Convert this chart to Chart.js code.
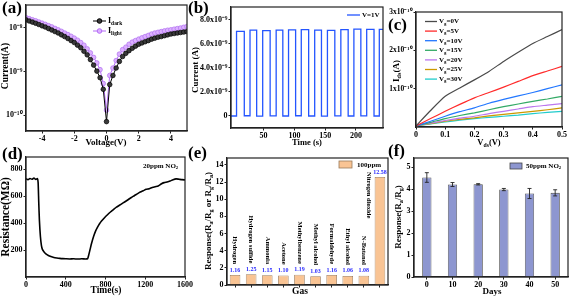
<!DOCTYPE html>
<html>
<head>
<meta charset="utf-8">
<script src="https://cdn.jsdelivr.net/npm/chart.js@4.4.1/dist/chart.umd.min.js"></script>
<style>
  html, body { margin: 0; padding: 0; background: #fff; }
  #wrap { position: relative; width: 570px; height: 297px; overflow: hidden; }
  #wrap canvas { position: absolute; left: 0; top: 0; }
</style>
</head>
<body>
<div id="wrap">
  <canvas id="ca" width="570" height="297"></canvas>
  <canvas id="cb" width="570" height="297"></canvas>
  <canvas id="cc" width="570" height="297"></canvas>
  <canvas id="cd" width="570" height="297"></canvas>
  <canvas id="ce" width="570" height="297"></canvas>
  <canvas id="cf" width="570" height="297"></canvas>
</div>
<script>
// (a) I-V curves
const voltage = [-5, -4.8, -4.6, -4.4, -4.2, -4, -3.8, -3.6, -3.4, -3.2, -3, -2.8, -2.6, -2.4, -2.2, -2, -1.8, -1.6, -1.4, -1.2, -1, -0.8, -0.6, -0.4, -0.2,
  0, 0.2, 0.4, 0.6, 0.8, 1, 1.2, 1.4, 1.6, 1.8, 2, 2.2, 2.4, 2.6, 2.8, 3, 3.2, 3.4, 3.6, 3.8, 4, 4.2, 4.4, 4.6, 4.8, 5];
const iDark = [1.52e-8, 1.43e-8, 1.35e-8, 1.27e-8, 1.19e-8, 1.11e-8, 1.04e-8, 9.6e-9, 8.9e-9, 8.2e-9, 7.6e-9, 6.9e-9, 6.3e-9, 5.7e-9, 5.1e-9, 4.6e-9, 4.0e-9, 3.5e-9, 2.9e-9, 2.4e-9, 1.87e-9, 1.4e-9, 1.02e-9, 7.2e-10, 3.9e-10,
  7.1e-11, 5.0e-10, 8.1e-10, 1.2e-9, 1.7e-9, 2.2e-9, 2.6e-9, 3.0e-9, 3.4e-9, 3.8e-9, 4.2e-9, 4.5e-9, 4.8e-9, 5.1e-9, 5.5e-9, 5.8e-9, 6.1e-9, 6.3e-9, 6.6e-9, 6.9e-9, 7.2e-9, 7.4e-9, 7.6e-9, 7.8e-9, 8.0e-9, 8.2e-9];
const iLight = [1.71e-8, 1.62e-8, 1.53e-8, 1.45e-8, 1.36e-8, 1.28e-8, 1.2e-8, 1.12e-8, 1.05e-8, 9.7e-9, 9.0e-9, 8.3e-9, 7.6e-9, 7.0e-9, 6.4e-9, 5.8e-9, 5.2e-9, 4.6e-9, 4.0e-9, 3.3e-9, 2.66e-9, 2.1e-9, 1.57e-9, 1.1e-9, 5.3e-10,
  1.3e-10, 8.1e-10, 1.2e-9, 1.78e-9, 2.5e-9, 3.16e-9, 3.6e-9, 4.2e-9, 4.7e-9, 5.1e-9, 5.5e-9, 5.9e-9, 6.3e-9, 6.7e-9, 7.2e-9, 7.6e-9, 7.9e-9, 8.2e-9, 8.5e-9, 8.8e-9, 9.0e-9, 9.3e-9, 9.6e-9, 9.9e-9, 1.03e-8, 1.07e-8];
const voltTicks = [-4, -2, 0, 2, 4];
const currentTicks = [1e-10, 1e-9, 1e-8];
const currentLabels = ['10⁻¹⁰', '10⁻⁹', '10⁻⁸'];

// (b) switching at V=1V (current in units of 1e-9 A)
const pulseRise = [6.0, 27.9, 48.5, 70.4, 90.5, 111.2, 133.0, 153.7, 175.5, 196.7, 217.5, 238.0];
const pulseFall = [18.6, 38.7, 60.6, 81.2, 102.0, 123.2, 144.0, 165.7, 187.4, 208.0, 229.4, 250.0];
const pulseTop = [7.05, 7.15, 7.12, 7.16, 7.18, 7.2, 7.15, 7.14, 7.2, 7.23, 7.22, 7.22];
const pulseBase = [0.0, 0.02, -0.01, 0.01, 0.0, 0.02, 0.0, -0.01, 0.01, 0.0, 0.01, 0.0, 0.0];
const timeTicks = [50, 100, 150, 200];
const switchTicks = [0, 2, 4, 6, 8];
const switchLabels = ['0', '2.0x10⁻⁹', '4.0x10⁻⁹', '6.0x10⁻⁹', '8.0x10⁻⁹'];

// (c) transfer curves (Ids in units of 1e-10 A)
const vds = [0, 0.05, 0.1, 0.15, 0.2, 0.25, 0.3, 0.35, 0.4, 0.45, 0.5];
const gateLabels = ['0V', '5V', '10V', '15V', '20V', '25V', '30V'];
const ids0 = [0.03, 0.43, 0.80, 1.02, 1.23, 1.45, 1.71, 1.95, 2.18, 2.36, 2.54];
const ids5 = [0.03, 0.22, 0.41, 0.59, 0.76, 0.90, 1.04, 1.19, 1.34, 1.46, 1.58];
const ids10 = [0.03, 0.15, 0.28, 0.40, 0.50, 0.62, 0.72, 0.81, 0.90, 1.00, 1.10];
const ids15 = [0.03, 0.12, 0.22, 0.30, 0.37, 0.45, 0.53, 0.60, 0.67, 0.73, 0.80];
const ids20 = [0.03, 0.10, 0.17, 0.23, 0.28, 0.35, 0.41, 0.47, 0.53, 0.57, 0.61];
const ids25 = [0.03, 0.09, 0.15, 0.20, 0.24, 0.29, 0.33, 0.37, 0.41, 0.45, 0.50];
const ids30 = [0.03, 0.08, 0.13, 0.18, 0.22, 0.25, 0.28, 0.31, 0.35, 0.38, 0.41];
const vdsTicks = [0, 0.1, 0.2, 0.3, 0.4, 0.5];
const idsTicks = [1, 2, 3];
const idsLabels = ['1x10⁻¹⁰', '2x10⁻¹⁰', '3x10⁻¹⁰'];

// (d) resistance response to 20ppm NO2
const dTime = [0, 20, 40, 60, 80, 100, 115, 122, 128, 135, 145, 155, 165, 180, 200, 225, 250, 280, 310, 340,
  370, 400, 440, 480, 520, 560, 600, 620, 630, 645, 660, 680, 700, 720, 740, 760, 790, 820, 850, 880,
  910, 940, 970, 1000, 1030, 1060, 1090, 1120, 1150, 1180, 1210, 1240, 1270, 1300, 1330, 1360, 1390, 1420, 1450, 1480,
  1510, 1540, 1570, 1600];
const dRes = [728, 722, 731, 725, 733, 724, 730, 700, 560, 420, 300, 235, 205, 188, 172, 160, 152, 145, 141, 138,
  136, 135, 134, 135, 133, 135, 134, 136, 160, 205, 250, 300, 340, 370, 395, 415, 440, 462, 482, 500,
  518, 532, 546, 560, 575, 590, 603, 617, 630, 640, 650, 655, 664, 670, 675, 690, 700, 705, 712, 722,
  728, 725, 722, 720];
const dTimeTicks = [0, 400, 800, 1200, 1600];
const resTicks = [200, 400, 600, 800];

// (e) selectivity
const gases = ['Hydrogen', 'Hydrogen sulfide', 'Ammonia', 'Acetone', 'Methylbenzene', 'Methyl alcohol',
  'Formaldehyde', 'Ethyl alcohol', 'N-Butanol', 'Nitrogen dioxide'];
const gasResp = [1.16, 1.25, 1.15, 1.10, 1.19, 1.03, 1.16, 1.06, 1.08, 12.58];
const gasRespText = ['1.16', '1.25', '1.15', '1.10', '1.19', '1.03', '1.16', '1.06', '1.08', '12.58'];
const selTicks = [0, 2, 4, 6, 8, 10, 12, 14];

// (f) stability
const days = ['0', '10', '20', '30', '40', '50'];
const stabResp = [4.54, 4.22, 4.23, 3.99, 3.81, 3.84];
const stabErr = [0.22, 0.09, 0.03, 0.05, 0.23, 0.14];
const stabTicks = [0, 1, 2, 3, 4, 5];

const FONT = "'Liberation Serif', 'Times New Roman', serif";
const PAGE_W = 570, PAGE_H = 297;

// draw text with sub/superscripts; parts are strings or [text, 'sub'|'sup']
function rich(ctx, parts, x, y, o = {}) {
  const size = o.size || 9;
  ctx.save();
  ctx.translate(x, y);
  if (o.rot) ctx.rotate(o.rot);
  const segs = parts.map(p => (typeof p === 'string' ? [p, ''] : p));
  const fnt = m => `bold ${m ? size * 0.68 : size}px ${FONT}`;
  let total = 0;
  segs.forEach(([t, m]) => { ctx.font = fnt(m); total += ctx.measureText(t).width; });
  let cx = o.align === 'left' ? 0 : o.align === 'right' ? -total : -total / 2;
  ctx.textAlign = 'left';
  ctx.textBaseline = 'middle';
  ctx.fillStyle = o.color || '#000';
  segs.forEach(([t, m]) => {
    ctx.font = fnt(m);
    const dy = m === 'sub' ? size * 0.3 : m === 'sup' ? -size * 0.35 : 0;
    ctx.fillText(t, cx, dy);
    cx += ctx.measureText(t).width;
  });
  ctx.restore();
}

function pad(L, T, R, B, yW, xH) {
  return { left: L - yW, top: T, right: PAGE_W - R, bottom: PAGE_H - B - xH };
}

function scale(o) {
  const horiz = o.position === 'bottom';
  const s = {
    type: o.type || 'linear',
    position: o.position,
    min: o.min,
    max: o.max,
    offset: !!o.offset,
    afterFit: sc => {
      if (horiz) sc.height = o.size; else sc.width = o.size;
      sc.paddingLeft = sc.paddingRight = sc.paddingTop = sc.paddingBottom = 0;
    },
    border: { display: true, color: '#222', width: 1.2 },
    grid: { display: true, drawOnChartArea: false, drawTicks: true, tickLength: 2.5, tickWidth: 1, color: '#222', offset: false },
    ticks: {
      display: o.labels !== null,
      color: '#000',
      padding: 1,
      maxRotation: 0,
      autoSkip: false,
      font: { family: FONT, size: o.font || 8, weight: 'bold' },
      callback: (v, i) => (o.labels ? o.labels[i] : v)
    }
  };
  if (o.ticks) s.afterBuildTicks = sc => { sc.ticks = o.ticks.map(v => ({ value: v })); };
  return s;
}

function deco(fn) {
  return {
    id: 'deco',
    afterDraw(chart) {
      const ctx = chart.ctx, ca = chart.chartArea;
      ctx.save();
      ctx.strokeStyle = '#222';
      ctx.lineWidth = 1.2;
      ctx.strokeRect(ca.left, ca.top, ca.right - ca.left, ca.bottom - ca.top);
      ctx.restore();
      fn(ctx, ca, chart);
    }
  };
}

const baseOpts = {
  responsive: false,
  animation: false,
  events: [],
  devicePixelRatio: 1
};
const noPlugins = { legend: { display: false }, tooltip: { enabled: false } };

// ---------- (a) ----------
new Chart(document.getElementById('ca'), {
  type: 'line',
  data: {
    datasets: [
      { data: voltage.map((v, i) => ({ x: v, y: iDark[i] })), borderColor: '#000', borderWidth: 1,
        pointRadius: 2.3, pointBackgroundColor: '#3a3a3a', pointBorderColor: '#000', pointBorderWidth: 0.7 },
      { data: voltage.map((v, i) => ({ x: v, y: iLight[i] })), borderColor: '#b36bf5', borderWidth: 1,
        pointRadius: 2.3, pointBackgroundColor: '#dcb0ff', pointBorderColor: '#b070f0', pointBorderWidth: 0.7 }
    ]
  },
  options: {
    ...baseOpts,
    layout: { padding: pad(26, 5, 187, 131, 26, 11) },
    plugins: noPlugins,
    scales: {
      x: scale({ position: 'bottom', min: -5, max: 5, ticks: voltTicks, labels: voltTicks.map(String), size: 11 }),
      y: scale({ type: 'logarithmic', position: 'left', min: 4.33e-11, max: 3.33e-8, ticks: currentTicks, labels: currentLabels, size: 26 })
    }
  },
  plugins: [deco((ctx, ca) => {
    rich(ctx, ['(a)'], 2, 9, { size: 17, align: 'left' });
    rich(ctx, ['Current(A)'], 6, 66, { size: 9.5, rot: -Math.PI / 2 });
    rich(ctx, ['Voltage(V)'], 106, 143, { size: 9 });
    // legend
    const items = [['dark', '#000', '#3a3a3a', 21], ['light', '#b36bf5', '#dcb0ff', 31]];
    items.forEach(([name, line, fill, y]) => {
      ctx.save();
      ctx.strokeStyle = line; ctx.lineWidth = 1;
      ctx.beginPath(); ctx.moveTo(93, y); ctx.lineTo(106, y); ctx.stroke();
      ctx.fillStyle = fill; ctx.beginPath(); ctx.arc(99.5, y, 2.3, 0, Math.PI * 2); ctx.fill(); ctx.stroke();
      ctx.restore();
      rich(ctx, ['I', [name, 'sub']], 108, y, { size: 8, align: 'left' });
    });
  })]
});

// ---------- (b) ----------
const switchPts = [{ x: -3, y: pulseBase[0] }];
pulseRise.forEach((t, i) => {
  switchPts.push({ x: t, y: pulseBase[i] }, { x: t, y: pulseTop[i] },
    { x: pulseFall[i], y: pulseTop[i] }, { x: pulseFall[i], y: pulseBase[i + 1] });
});
new Chart(document.getElementById('cb'), {
  type: 'line',
  data: { datasets: [{ data: switchPts, borderColor: '#2455ff', borderWidth: 1.3, pointRadius: 0, tension: 0 }] },
  options: {
    ...baseOpts,
    layout: { padding: pad(231, 7, 383, 128, 40, 11) },
    plugins: noPlugins,
    scales: {
      x: scale({ position: 'bottom', min: -3, max: 244, ticks: timeTicks, labels: timeTicks.map(String), size: 11 }),
      y: scale({ position: 'left', min: -1, max: 9.08, ticks: switchTicks, labels: switchLabels, size: 40 })
    }
  },
  plugins: [deco((ctx, ca) => {
    rich(ctx, ['(b)'], 188, 9, { size: 17, align: 'left' });
    rich(ctx, ['Current (A)'], 196, 70, { size: 9, rot: -Math.PI / 2 });
    rich(ctx, ['Time (s)'], 307, 143, { size: 8.5 });
    ctx.save();
    ctx.strokeStyle = '#2455ff'; ctx.lineWidth = 1.3;
    ctx.beginPath(); ctx.moveTo(347, 15); ctx.lineTo(360, 15); ctx.stroke();
    ctx.restore();
    rich(ctx, ['V=1V'], 362, 15, { size: 7, align: 'left' });
  })]
});

// ---------- (c) ----------
const idsSeries = [ids0, ids5, ids10, ids15, ids20, ids25, ids30];
const gateColors = ['#4a4a4a', '#ff2a2a', '#2277ff', '#33aa66', '#bb77ee', '#cc9900', '#22cccc'];
new Chart(document.getElementById('cc'), {
  type: 'line',
  data: {
    datasets: idsSeries.map((s, k) => ({
      data: vds.map((v, i) => ({ x: v, y: s[i] })),
      borderColor: gateColors[k], borderWidth: 1.2, pointRadius: 0, tension: 0.2
    }))
  },
  options: {
    ...baseOpts,
    layout: { padding: pad(416, 12, 562, 127, 28, 11) },
    plugins: noPlugins,
    scales: {
      x: scale({ position: 'bottom', min: 0, max: 0.5, ticks: vdsTicks, labels: vdsTicks.map(String), size: 11 }),
      y: scale({ position: 'left', min: 0, max: 3, ticks: idsTicks, labels: idsLabels, size: 28, font: 7.5 })
    }
  },
  plugins: [deco((ctx, ca) => {
    rich(ctx, ['(c)'], 388, 26, { size: 17, align: 'left' });
    rich(ctx, ['I', ['ds', 'sub'], '(A)'], 397, 71, { size: 9, rot: -Math.PI / 2 });
    rich(ctx, ['V', ['ds', 'sub'], '(V)'], 489, 143, { size: 8.5 });
    gateLabels.forEach((g, k) => {
      const y = 21.5 + k * 9.6;
      ctx.save();
      ctx.strokeStyle = gateColors[k]; ctx.lineWidth = 1.3;
      ctx.beginPath(); ctx.moveTo(425, y); ctx.lineTo(437, y); ctx.stroke();
      ctx.restore();
      rich(ctx, ['V', ['g', 'sub'], '=' + g], 439, y, { size: 7, align: 'left' });
    });
  })]
});

// ---------- (d) ----------
new Chart(document.getElementById('cd'), {
  type: 'line',
  data: { datasets: [{ data: dTime.map((t, i) => ({ x: t, y: dRes[i] })), borderColor: '#000', borderWidth: 1.6, pointRadius: 0, tension: 0.2 }] },
  options: {
    ...baseOpts,
    layout: { padding: pad(26, 157, 185, 277, 26, 11) },
    plugins: noPlugins,
    scales: {
      x: scale({ position: 'bottom', min: 0, max: 1600, ticks: dTimeTicks, labels: dTimeTicks.map(String), size: 11 }),
      y: scale({ position: 'left', min: 0, max: 890, ticks: resTicks, labels: resTicks.map(String), size: 26 })
    }
  },
  plugins: [deco((ctx, ca) => {
    rich(ctx, ['(d)'], 2, 155, { size: 17, align: 'left' });
    rich(ctx, ['Resistance(MΩ)'], 6, 217, { size: 11.5, rot: -Math.PI / 2 });
    rich(ctx, ['Time(s)'], 106, 291, { size: 9.5 });
    rich(ctx, ['20ppm NO', ['2', 'sub']], 143, 166, { size: 7, align: 'left' });
  })]
});

// ---------- (e) ----------
new Chart(document.getElementById('ce'), {
  type: 'bar',
  data: {
    labels: gases,
    datasets: [{ data: gasResp, backgroundColor: '#f9c494', borderColor: '#9a7a5a', borderWidth: 0.8,
      barPercentage: 0.66, categoryPercentage: 1 }]
  },
  options: {
    ...baseOpts,
    layout: { padding: pad(227, 158, 388, 285, 26, 4) },
    plugins: noPlugins,
    scales: {
      x: scale({ type: 'category', position: 'bottom', offset: true, labels: null, size: 4 }),
      y: scale({ position: 'left', min: 0, max: 14.8, ticks: selTicks, labels: selTicks.map(String), size: 26 })
    }
  },
  plugins: [deco((ctx, ca, chart) => {
    rich(ctx, ['(e)'], 188, 154, { size: 17, align: 'left' });
    rich(ctx, ['Response(R', ['a', 'sub'], '/R', ['g', 'sub'], ' or R', ['g', 'sub'], '/R', ['a', 'sub'], ')'], 209, 221, { size: 9, rot: -Math.PI / 2 });
    rich(ctx, ['Gas'], 300, 292, { size: 9.5 });
    const meta = chart.getDatasetMeta(0);
    meta.data.forEach((bar, i) => {
      const ly = bar.y - 5;
      rich(ctx, [gasRespText[i]], bar.x, ly, { size: 6, color: '#2a2aff' });
      if (i < gases.length - 1) {
        rich(ctx, [gases[i]], bar.x, ly - 6, { size: 6.5, rot: Math.PI / 2, align: 'right' });
      } else {
        rich(ctx, [gases[i]], bar.x - 11, ca.top + 14, { size: 6.5, rot: Math.PI / 2, align: 'left' });
      }
    });
    ctx.save();
    ctx.fillStyle = '#f9c494'; ctx.strokeStyle = '#9a7a5a'; ctx.lineWidth = 0.8;
    ctx.fillRect(339, 161, 13, 7); ctx.strokeRect(339, 161, 13, 7);
    ctx.restore();
    rich(ctx, ['100ppm'], 357, 165, { size: 7, align: 'left' });
  })]
});

// ---------- (f) ----------
new Chart(document.getElementById('cf'), {
  type: 'bar',
  data: {
    labels: days,
    datasets: [{ data: stabResp, backgroundColor: '#8d96d0', borderColor: '#444', borderWidth: 0.8,
      barPercentage: 0.36, categoryPercentage: 1 }]
  },
  options: {
    ...baseOpts,
    layout: { padding: pad(414, 158, 568, 277, 18, 11) },
    plugins: noPlugins,
    scales: {
      x: scale({ type: 'category', position: 'bottom', offset: true, labels: days, size: 11 }),
      y: scale({ position: 'left', min: 0, max: 5.43, ticks: stabTicks, labels: stabTicks.map(String), size: 18 })
    }
  },
  plugins: [deco((ctx, ca, chart) => {
    rich(ctx, ['(f)'], 388, 152, { size: 17, align: 'left' });
    rich(ctx, ['Response(R', ['a', 'sub'], '/R', ['g', 'sub'], ')'], 399, 217, { size: 9, rot: -Math.PI / 2 });
    rich(ctx, ['Days'], 492, 292, { size: 9 });
    const meta = chart.getDatasetMeta(0), ys = chart.scales.y;
    ctx.save();
    ctx.strokeStyle = '#222'; ctx.lineWidth = 0.9;
    meta.data.forEach((bar, i) => {
      const hi = ys.getPixelForValue(stabResp[i] + stabErr[i]);
      const lo = ys.getPixelForValue(stabResp[i] - stabErr[i]);
      ctx.beginPath();
      ctx.moveTo(bar.x, hi); ctx.lineTo(bar.x, lo);
      ctx.moveTo(bar.x - 2, hi); ctx.lineTo(bar.x + 2, hi);
      ctx.moveTo(bar.x - 2, lo); ctx.lineTo(bar.x + 2, lo);
      ctx.stroke();
    });
    ctx.fillStyle = '#8d96d0'; ctx.strokeStyle = '#444'; ctx.lineWidth = 0.8;
    ctx.fillRect(510, 163, 12, 6); ctx.strokeRect(510, 163, 12, 6);
    ctx.restore();
    rich(ctx, ['50ppm NO', ['2', 'sub']], 526, 166, { size: 7, align: 'left' });
  })]
});
</script>
</body>
</html>
